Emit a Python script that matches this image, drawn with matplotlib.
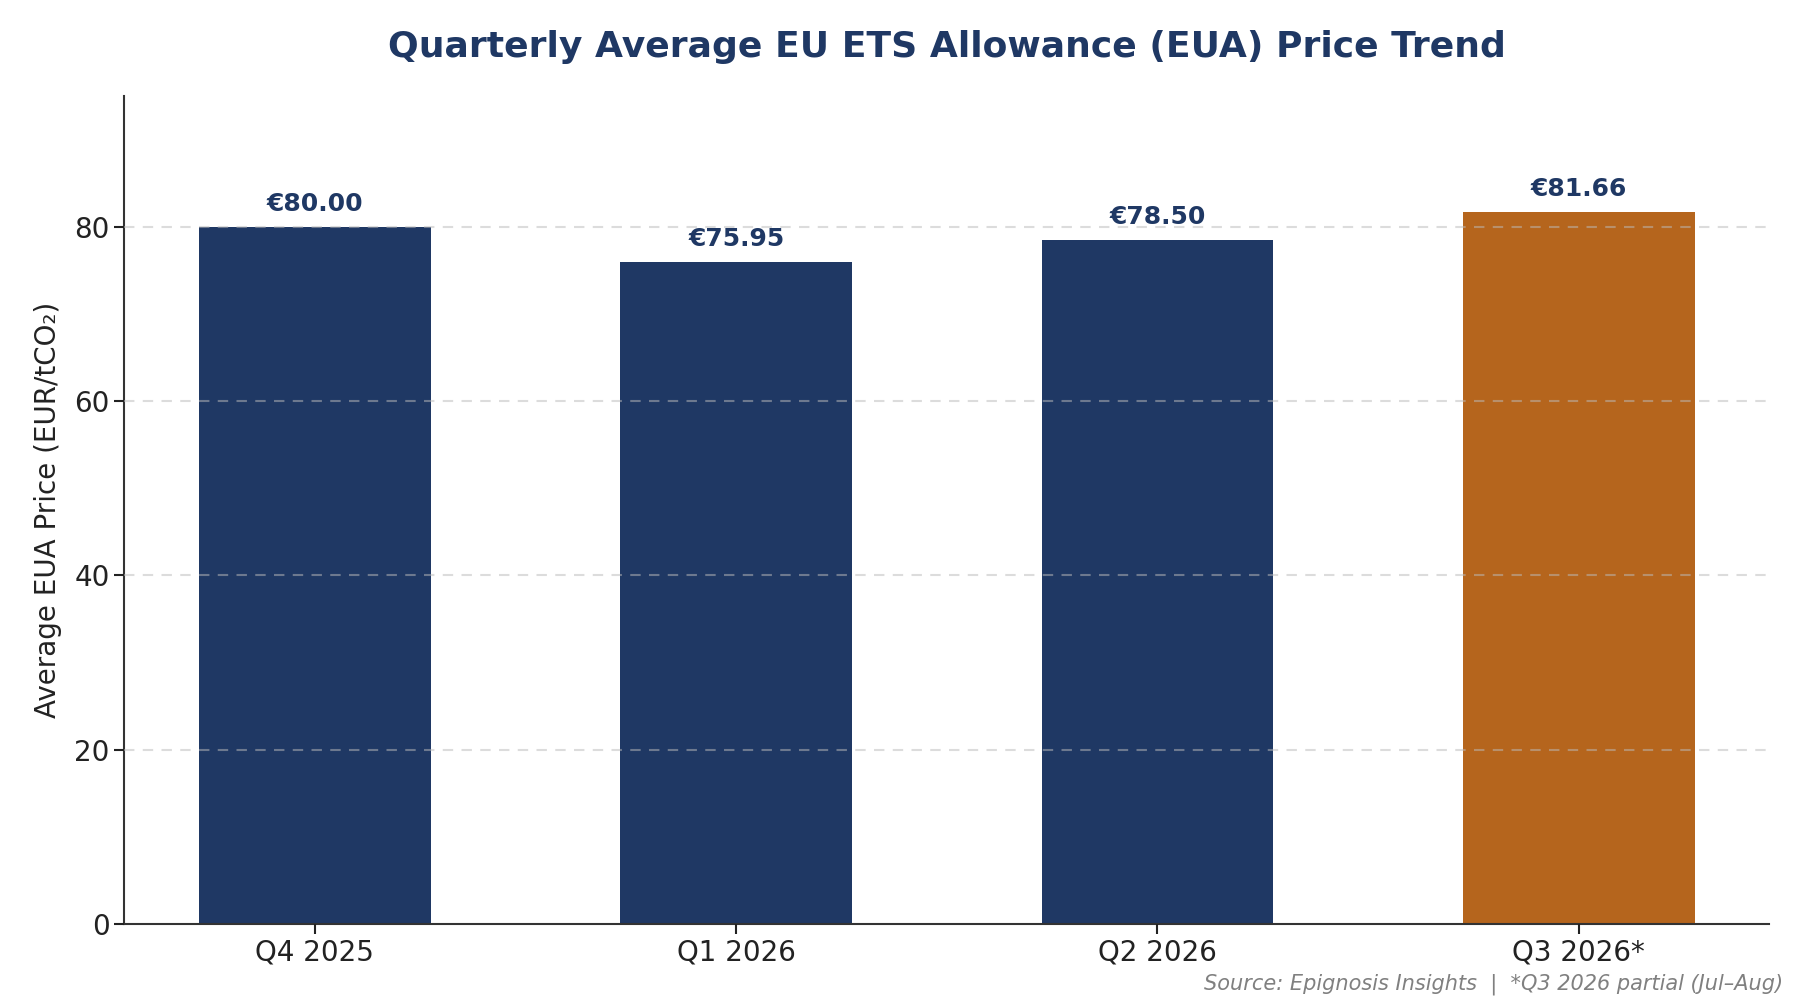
import numpy as np
import matplotlib.pyplot as plt

quarters = ['Q4 2025', 'Q1 2026', 'Q2 2026', 'Q3 2026*']
prices = [80.00, 75.95, 78.50, 81.66]
bar_colors = ['#1F3864', '#1F3864', '#1F3864', '#B5651D']

navy = '#1F3864'

fig, ax = plt.subplots(figsize=(18, 10), dpi=100)
fig.subplots_adjust(left=0.069, right=0.983, bottom=0.076, top=0.904)

x = np.arange(len(quarters))
bars = ax.bar(x, prices, width=0.55, color=bar_colors, zorder=2)

# value labels above each bar
for b, v in zip(bars, prices):
    ax.annotate(f'€{v:.2f}', (b.get_x() + b.get_width() / 2, v),
                xytext=(0, 8), textcoords='offset points',
                ha='center', va='bottom', fontsize=18,
                fontweight='bold', color=navy)

ax.set_xticks(x)
ax.set_xticklabels(quarters)
ax.set_ylim(0, 95)
ax.set_yticks([0, 20, 40, 60, 80])
ax.tick_params(axis='both', labelsize=20, length=7, width=1.5,
               colors='#222222')

ax.set_ylabel('Average EUA Price (EUR/tCO₂)', fontsize=20, color='#222222',
              labelpad=9)
ax.set_title('Quarterly Average EU ETS Allowance (EUA) Price Trend',
             fontsize=26, fontweight='bold', color=navy, pad=28)

ax.yaxis.grid(True, linestyle=(0, (5, 4)), color='#bbbbbb', alpha=0.5,
              linewidth=1.5, zorder=3)
ax.set_axisbelow(False)
ax.yaxis.get_gridlines()[0].set_visible(False)

for side in ['top', 'right']:
    ax.spines[side].set_visible(False)
for side in ['left', 'bottom']:
    ax.spines[side].set_linewidth(1.5)
    ax.spines[side].set_color('#333333')

fig.text(0.9905, 0.005, 'Source: Epignosis Insights  |  *Q3 2026 partial (Jul–Aug)',
         ha='right', va='bottom', fontsize=15, style='italic', color='#808080')

plt.savefig('out.png')
